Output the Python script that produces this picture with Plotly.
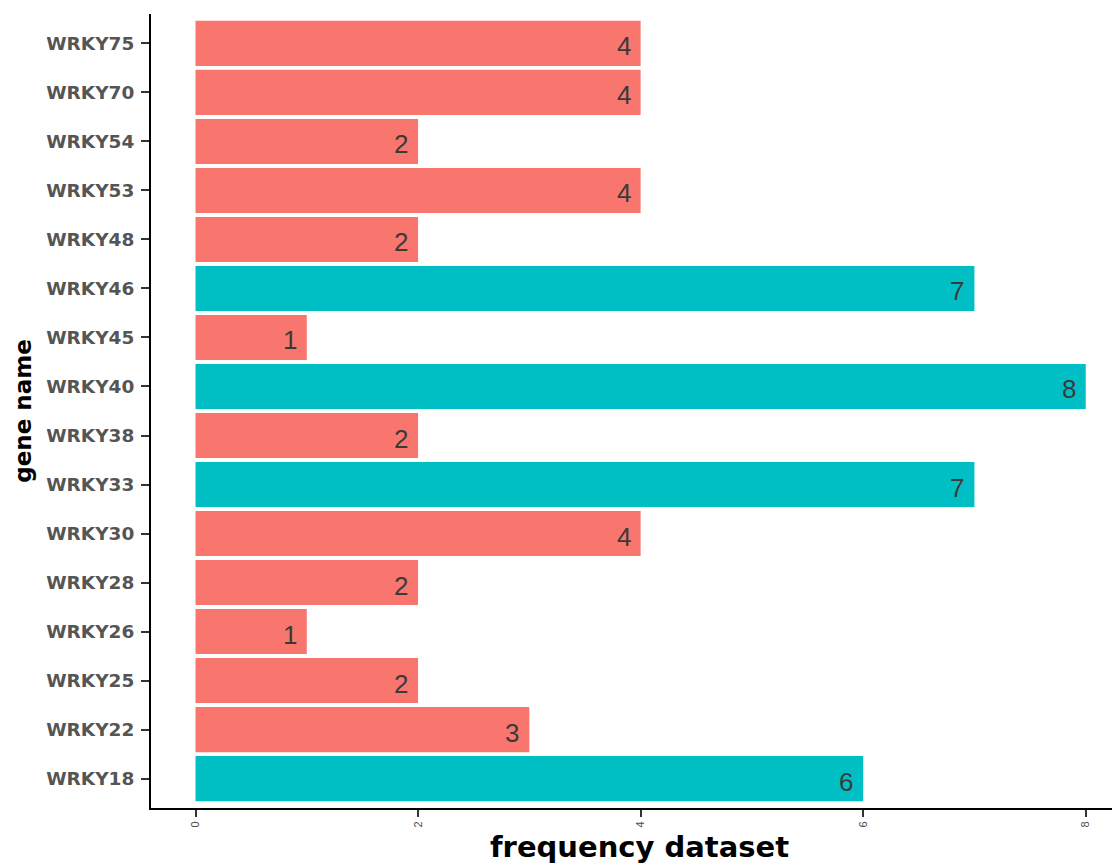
import plotly.graph_objects as go

genes = ["WRKY18", "WRKY22", "WRKY25", "WRKY26", "WRKY28", "WRKY30", "WRKY33", "WRKY38",
         "WRKY40", "WRKY45", "WRKY46", "WRKY48", "WRKY53", "WRKY54", "WRKY70", "WRKY75"]
freq = [6, 3, 2, 1, 2, 4, 7, 2, 8, 1, 7, 2, 4, 2, 4, 4]
group = ["B", "A", "A", "A", "A", "A", "B", "A", "B", "A", "B", "A", "A", "A", "A", "A"]
x_ticks = [0, 2, 4, 6, 8]

palette = {"A": "#F8766D", "B": "#00BFC4"}
colors = [palette[g] for g in group]

fig = go.Figure()
fig.add_trace(go.Bar(
    x=freq, y=genes, orientation="h",
    marker=dict(color=colors, line=dict(width=0)),
    width=0.92,
    showlegend=False,
    hoverinfo="x+y",
))

for g, v in zip(genes, freq):
    fig.add_annotation(
        x=v, y=g, text=str(v), showarrow=False,
        xanchor="right", yanchor="middle", xshift=-8, yshift=-3,
        font=dict(family="Liberation Sans, Arial, sans-serif", size=26, color="#3A3A3A"),
    )

fig.update_layout(
    width=1120, height=867,
    margin=dict(l=143, r=0, t=6, b=67),
    plot_bgcolor="white", paper_bgcolor="white",
    xaxis=dict(
        range=[-0.4, 8.38], tickvals=x_ticks, ticktext=[str(t) for t in x_ticks],
        showgrid=False, zeroline=False, showline=True, linecolor="black", linewidth=2,
        ticks="outside", ticklen=7, tickwidth=1.5, tickcolor="#333333",
        tickangle=-90,
        tickfont=dict(family="Liberation Sans, Arial, sans-serif", size=11, color="#4D4D4D"),
        title=dict(text="frequency dataset", standoff=10,
                   font=dict(family="DejaVu Sans, sans-serif", size=29, color="black", weight="bold")),
    ),
    yaxis=dict(
        categoryorder="array", categoryarray=genes, range=[-0.6, 15.6],
        showgrid=False, zeroline=False, showline=True, linecolor="black", linewidth=2,
        ticks="outside", ticklen=8, tickwidth=1.5, tickcolor="#333333",
        ticklabelstandoff=3,
        tickfont=dict(family="DejaVu Sans, sans-serif", size=18.5, color="#555555", weight="bold"),
        title=dict(text="gene name", standoff=8,
                   font=dict(family="DejaVu Sans, sans-serif", size=23, color="black", weight="bold")),
    ),
)

fig.write_html("out.html")
